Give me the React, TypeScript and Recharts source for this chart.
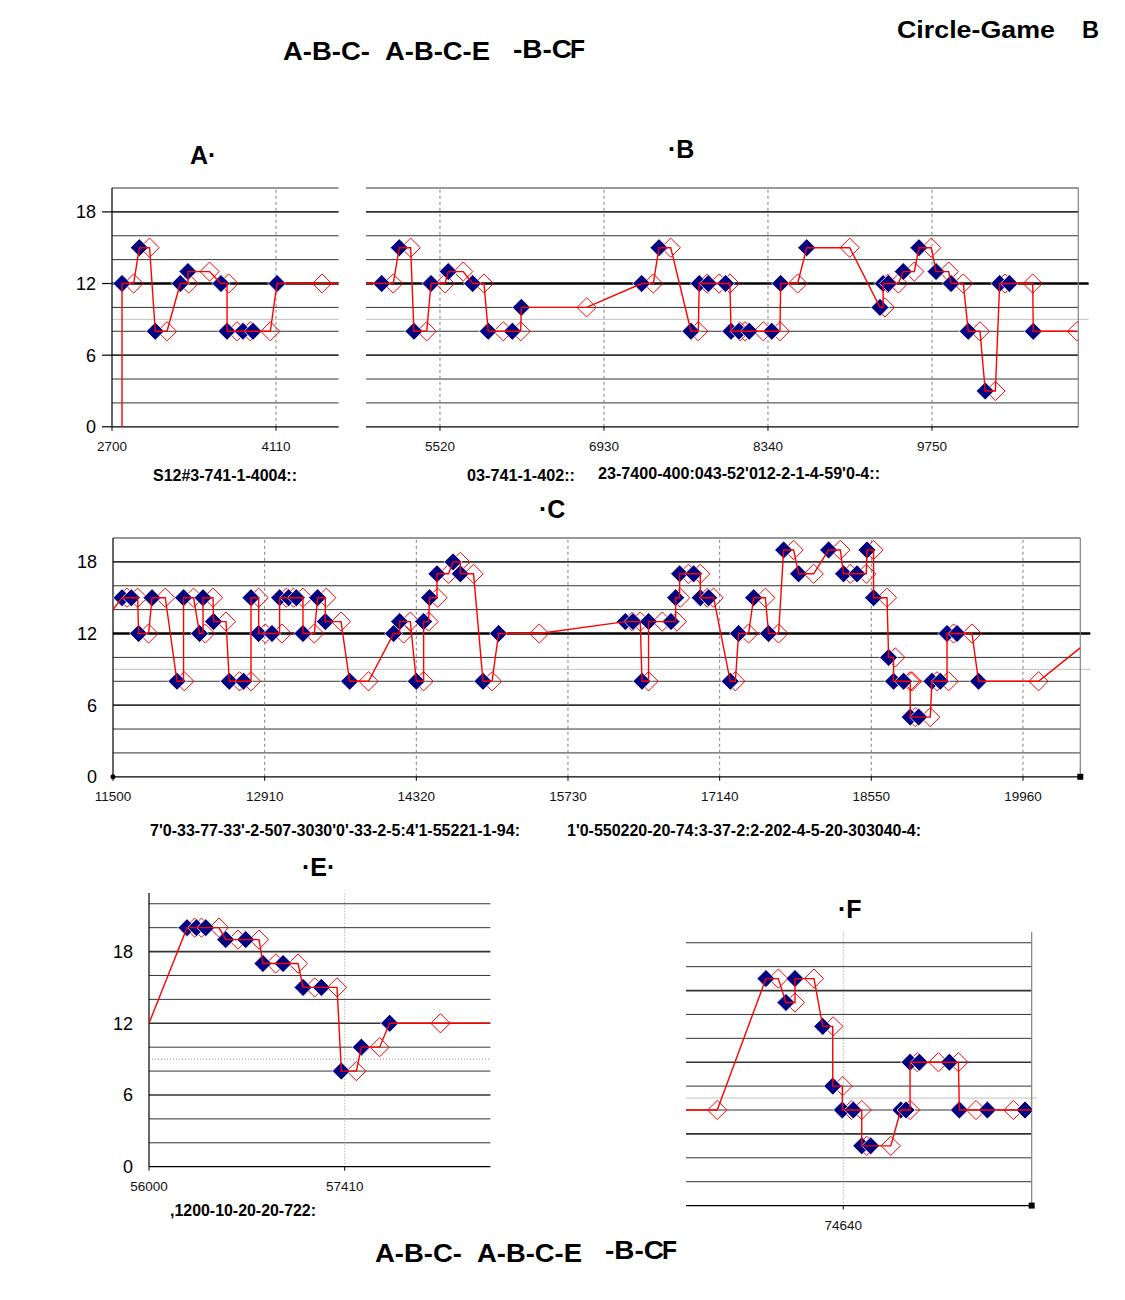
import React from 'react';
import { ScatterChart, Scatter, XAxis, YAxis, ReferenceLine, ReferenceDot } from 'recharts';

const FONT = '"Liberation Sans", Arial, Helvetica, sans-serif';

// Panel A  (each event: blue mark, its red partner, shared value)
const aY = [12, 15, 8, 12, 13, 12, 8, 8, 8, 12];
const aBlueX = [2786, 2935, 3072, 3287, 3353, 3637, 3689, 3826, 3912, 4119];
const aRedX = [2886, 3023, 3173, 3359, 3539, 3703, 3775, 3889, 4061, 4506];
const aLineStart = [2786, 0];
const aLineEnd = [4648, 12];
const aTicks = [2700, 4110];

// Panel B
const bY = [12, 15, 8, 12, 13, 12, 8, 8, 10, 12, 15, 8, 12, 12, 12, 8, 8, 8, 8, 12, 15, 10, 12, 12, 13, 15, 13, 12, 8, 3, 12, 12, 8];
const bBlueX = [5019, 5170, 5296, 5443, 5591, 5801, 5935, 6142, 6219, 7254, 7403, 7678, 7749, 7827, 7976, 8022, 8091, 8179, 8372, 8449, 8673, 9303, 9330, 9375, 9503, 9638, 9785, 9914, 10062, 10208, 10332, 10415, 10621];
const bRedX = [5118, 5268, 5406, 5563, 5720, 5898, 6064, 6214, 6781, 7354, 7504, 7741, 7818, 7921, 8013, 8099, 8142, 8300, 8443, 8595, 9043, 9346, 9372, 9461, 9598, 9744, 9894, 10019, 10163, 10295, 10378, 10616, 10997];
const bLineStart = [4884, 12];
const bLineEnd = [10997, 8];
const bTicks = [5520, 6930, 8340, 9750];

// Panel C
const cY = [15, 15, 12, 15, 8, 15, 12, 15, 13, 8, 8, 15, 12, 12, 15, 15, 15, 12, 15, 13, 8, 12, 13, 8, 13, 15, 17, 18, 17, 8, 12,
  13, 13, 8, 13, 13, 15, 17, 17, 15, 15, 8, 12, 15, 12, 19, 17, 19, 17, 17, 19, 15, 10, 8, 8, 5, 5, 8, 8, 12, 12, 8];
const cBlueX = [11584, 11670, 11738, 11863, 12095, 12156, 12305, 12337, 12435, 12581, 12714, 12783, 12854, 12978, 13049, 13132, 13204, 13266, 13402, 13474, 13700, 14109, 14165, 14320, 14388, 14443, 14512, 14661, 14729, 14940, 15085,
  16263, 16334, 16418, 16479, 16688, 16731, 16768, 16898, 16960, 17037, 17239, 17316, 17456, 17595, 17735, 17874, 18153, 18292, 18417, 18510, 18571, 18711, 18757, 18850, 18912, 18990, 19114, 19191, 19254, 19347, 19547];
const cRedX = [11630, 11729, 11831, 11986, 12163, 12249, 12358, 12430, 12551, 12677, 12783, 12854, 12916, 13071, 13111, 13179, 13266, 13372, 13483, 13620, 13876, 14202, 14264, 14388, 14434, 14518, 14620, 14729, 14852, 15024, 15463,
  16328, 16402, 16479, 16607, 16743, 16774, 16849, 16960, 17025, 17084, 17286, 17409, 17565, 17688, 17828, 18014, 18262, 18355, 18503, 18571, 18696, 18773, 18912, 18928, 18959, 19098, 19161, 19269, 19315, 19486, 20105];
const cLineStart = [11500, 14];
const cLineEnd = [20493, 10.8];
const cTicks = [11500, 12910, 14320, 15730, 17140, 18550, 19960];

// Panel E
const eY = [20, 20, 20, 19, 19, 17, 17, 15, 15, 8, 10, 12];
const eBlueX = [56274, 56342, 56409, 56553, 56697, 56821, 56966, 57110, 57242, 57386, 57530, 57734];
const eRedX = [56329, 56378, 56504, 56641, 56793, 56913, 57074, 57194, 57355, 57494, 57662, 58100];
const eLineStart = [56000, 12];
const eLineEnd = [58460, 12];
const eTicks = [56000, 57410];

// Panel F
const fY = [8, 19, 17, 19, 15, 10, 8, 8, 5, 5, 8, 8, 12, 12, 12, 8, 8, 8];
const fBlueX = [null, 74083, 74227, 74292, 74492, 74564, 74633, 74712, 74773, 74837, 75054, 75092, 75121, 75188, 75404, 75476, 75678, 75949];
const fRedX = [73732, 74172, 74292, 74429, 74568, 74636, 74700, 74773, 74809, 74982, null, 75121, 75173, 75325, 75469, 75596, 75865, null];
const fLineStart = [73507, 8];
const fLineEnd = [75997, 8];
const fTicks = [74640];

type Num = number | null;

function buildLine(start: number[], blueX: Num[], redX: Num[], ys: number[], end: number[]) {
  const pts = [{ x: start[0], y: start[1] }];
  for (let i = 0; i < ys.length; i++) {
    const b = blueX[i];
    const r = redX[i];
    if (b != null) pts.push({ x: b, y: ys[i] });
    let stop = r ?? b;
    const nb = blueX[i + 1];
    if (nb != null && stop != null && nb < stop) stop = nb;
    if (stop != null) pts.push({ x: stop, y: ys[i] });
  }
  pts.push({ x: end[0], y: end[1] });
  return pts;
}

const marks = (xs: Num[], ys: number[]) =>
  xs.map((x, i) => (x == null ? null : { x, y: ys[i] })).filter(Boolean) as { x: number; y: number }[];

const BlueDiamond = (p: any) => {
  const { cx, cy } = p;
  const r = 9;
  return <path d={`M${cx},${cy - r}L${cx + r},${cy}L${cx},${cy + r}L${cx - r},${cy}Z`} fill="#000080" stroke="#ffffff" strokeWidth={0.8} />;
};

const RedDiamond = (p: any) => {
  const { cx, cy } = p;
  const r = 9.6;
  return <path d={`M${cx},${cy - r}L${cx + r},${cy}L${cx},${cy + r}L${cx - r},${cy}Z`} fill="none" stroke="#ff0000" strokeWidth={1} />;
};

const NoMark = () => <g />;

const CornerBox = (p: any) => <rect x={p.cx - 3} y={p.cy - 3} width={6} height={6} fill="#000" />;
const CornerDot = (p: any) => <circle cx={p.cx} cy={p.cy} r={2.5} fill="#000" />;

interface PanelProps {
  plot: [number, number, number, number]; // left, top, right, bottom
  xDomain: [number, number];
  yMax: number;
  xTicks: number[];
  ys: number[];
  blueX: Num[];
  redX: Num[];
  lineStart: number[];
  lineEnd: number[];
  showY?: boolean;
  yTickLine?: boolean;
  rightAxis?: boolean;
  boldTwelve?: boolean;
  lowerSet?: boolean; // E and F style grid
  greyDotted?: boolean;
  extendTo?: number;
  extendGreyTo?: number;
  cornerBox?: boolean;
  originDot?: boolean;
}

const M = { l: 50, r: 30, t: 6, b: 20 };
const Y_W = 20;
const X_H = 20;

const Panel: React.FC<PanelProps> = (p) => {
  const [pl, pt, pr, pb] = p.plot;
  const w = pr - pl + M.l + Y_W + M.r;
  const h = pb - pt + M.t + M.b + X_H;
  const thin = p.lowerSet ? [2, 4, 8, 10, 14, 16, 20, 22] : [2, 4, 8, 10, 14, 16, 20];
  const mid = p.lowerSet ? [6, 12, 18] : [6, 18];
  const vDash = p.lowerSet ? '1 2' : '3 3';
  const vColor = p.lowerSet ? '#999999' : '#808080';
  const lineData = buildLine(p.lineStart, p.blueX, p.redX, p.ys, p.lineEnd);
  const x0 = p.xDomain[0];

  return (
    <div style={{ position: 'absolute', left: pl - M.l - Y_W, top: pt - M.t }}>
      <ScatterChart width={w} height={h} margin={{ top: M.t, right: M.r, bottom: M.b, left: M.l }}>
        <XAxis
          type="number"
          dataKey="x"
          domain={p.xDomain}
          ticks={p.xTicks}
          interval={0}
          allowDataOverflow
          height={X_H}
          tickSize={4}
          tickMargin={11}
          tick={{ fontSize: 13.5, fill: '#111' }}
          axisLine={{ stroke: '#000', strokeWidth: 1.2 }}
          tickLine={{ stroke: '#000' }}
        />
        <YAxis
          type="number"
          dataKey="y"
          domain={[0, p.yMax]}
          ticks={[0, 6, 12, 18]}
          interval={0}
          allowDataOverflow
          width={Y_W}
          tickSize={10}
          tickMargin={6}
          tickLine={p.showY && p.yTickLine ? { stroke: '#000', strokeWidth: 1.2 } : false}
          tick={p.showY ? { fontSize: 18, fill: '#000' } : false}
          axisLine={p.showY ? { stroke: '#000', strokeWidth: 1.2 } : false}
        />
        {thin.map((v) => (
          <ReferenceLine key={`t${v}`} y={v} stroke="#333" strokeWidth={1} />
        ))}
        {mid.map((v) => (
          <ReferenceLine key={`m${v}`} y={v} stroke="#333" strokeWidth={1.7} />
        ))}
        {p.boldTwelve &&
          (p.extendTo ? (
            <ReferenceLine segment={[{ x: x0, y: 12 }, { x: p.extendTo, y: 12 }]} ifOverflow="visible" stroke="#000" strokeWidth={2.7} />
          ) : (
            <ReferenceLine y={12} stroke="#000" strokeWidth={2.7} />
          ))}
        {p.extendGreyTo ? (
          <ReferenceLine segment={[{ x: x0, y: 9 }, { x: p.extendGreyTo, y: 9 }]} ifOverflow="visible" stroke="#c0c0c0" strokeWidth={1} />
        ) : (
          <ReferenceLine y={9} stroke={p.greyDotted ? '#888' : '#c0c0c0'} strokeWidth={1} strokeDasharray={p.greyDotted ? '1 2' : undefined} />
        )}
        {p.xTicks
          .filter((t) => t > p.xDomain[0])
          .map((t) => (
            <ReferenceLine key={`v${t}`} x={t} stroke={vColor} strokeWidth={1} strokeDasharray={vDash} />
          ))}
        {p.rightAxis && <ReferenceLine x={p.xDomain[1]} stroke="#808080" strokeWidth={1.2} />}
        {p.cornerBox && <ReferenceDot x={p.xDomain[1]} y={0} shape={CornerBox} />}
        {p.originDot && <ReferenceDot x={p.xDomain[0]} y={0} shape={CornerDot} />}
        <Scatter data={marks(p.redX, p.ys)} shape={RedDiamond} isAnimationActive={false} />
        <Scatter data={marks(p.blueX, p.ys)} shape={BlueDiamond} isAnimationActive={false} />
        <Scatter
          data={lineData}
          shape={NoMark}
          line={{ stroke: '#ff0000', strokeWidth: 1.4 }}
          lineType="joint"
          isAnimationActive={false}
        />
      </ScatterChart>
    </div>
  );
};

const T: React.FC<{ x: number; y: number; s: number; len?: number; w?: string; children: React.ReactNode }> = ({ x, y, s, len, w = 'bold', children }) => (
  <text x={x} y={y} fontSize={s} fontWeight={w} fill="#000" textLength={len} lengthAdjust={len ? 'spacingAndGlyphs' : undefined}>
    {children}
  </text>
);

export default function App() {
  return (
    <div style={{ position: 'absolute', left: 0, top: 0, width: 1125, height: 1300, background: '#fff', fontFamily: FONT }}>
      <Panel plot={[111.7, 188.2, 338.3, 427]} xDomain={[2700, 4648]} yMax={20} xTicks={aTicks}
        ys={aY} blueX={aBlueX} redX={aRedX} lineStart={aLineStart} lineEnd={aLineEnd}
        showY yTickLine boldTwelve />
      <Panel plot={[366, 188.2, 1078.3, 427]} xDomain={[4884, 11008]} yMax={20} xTicks={bTicks}
        ys={bY} blueX={bBlueX} redX={bRedX} lineStart={bLineStart} lineEnd={bLineEnd}
        rightAxis boldTwelve extendTo={11097} extendGreyTo={11097} />
      <Panel plot={[112.7, 538.2, 1080, 777]} xDomain={[11500, 20493]} yMax={20} xTicks={cTicks}
        ys={cY} blueX={cBlueX} redX={cRedX} lineStart={cLineStart} lineEnd={cLineEnd}
        showY rightAxis boldTwelve extendTo={20586} extendGreyTo={20586} cornerBox originDot />
      <Panel plot={[149.3, 893.3, 490.7, 1167]} xDomain={[56000, 58460]} yMax={22.9} xTicks={eTicks}
        ys={eY} blueX={eBlueX} redX={eRedX} lineStart={eLineStart} lineEnd={eLineEnd}
        showY lowerSet greyDotted />
      <Panel plot={[686, 931.7, 1031.7, 1205.3]} xDomain={[73507, 75997]} yMax={22.9} xTicks={fTicks}
        ys={fY} blueX={fBlueX} redX={fRedX} lineStart={fLineStart} lineEnd={fLineEnd}
        rightAxis lowerSet extendGreyTo={76033} cornerBox />

      <svg width={1125} height={1300} style={{ position: 'absolute', left: 0, top: 0, pointerEvents: 'none' }}>
        <T x={283} y={60} s={26} len={87}>A-B-C-</T>
        <T x={385} y={60} s={26} len={105}>A-B-C-E</T>
        <T x={513} y={58} s={26} len={59}>-B-C</T>
        <T x={570} y={58} s={26} len={15}>F</T>
        <T x={897} y={37.5} s={24} len={158}>Circle-Game</T>
        <T x={1082} y={37.5} s={24} len={17}>B</T>

        <T x={190} y={164} s={25}>A·</T>
        <T x={668} y={158} s={25}>·B</T>
        <T x={539} y={518} s={25}>·C</T>
        <T x={302} y={876} s={25}>·E·</T>
        <T x={838} y={918} s={25}>·F</T>

        <T x={153} y={481} s={16} len={144}>S12#3-741-1-4004::</T>
        <T x={467} y={481} s={16} len={108}>03-741-1-402::</T>
        <T x={598} y={479} s={16} len={282}>23-7400-400:043-52'012-2-1-4-59'0-4::</T>
        <T x={150} y={836} s={16} len={370}>7'0-33-77-33'-2-507-3030'0'-33-2-5:4'1-55221-1-94:</T>
        <T x={567} y={836} s={16} len={354}>1'0-550220-20-74:3-37-2:2-202-4-5-20-303040-4:</T>
        <T x={170} y={1216} s={16} len={146}>,1200-10-20-20-722:</T>

        <T x={375} y={1262} s={26} len={87}>A-B-C-</T>
        <T x={477} y={1262} s={26} len={105}>A-B-C-E</T>
        <T x={605} y={1259} s={26} len={59}>-B-C</T>
        <T x={662} y={1259} s={26} len={15}>F</T>
      </svg>
    </div>
  );
}
